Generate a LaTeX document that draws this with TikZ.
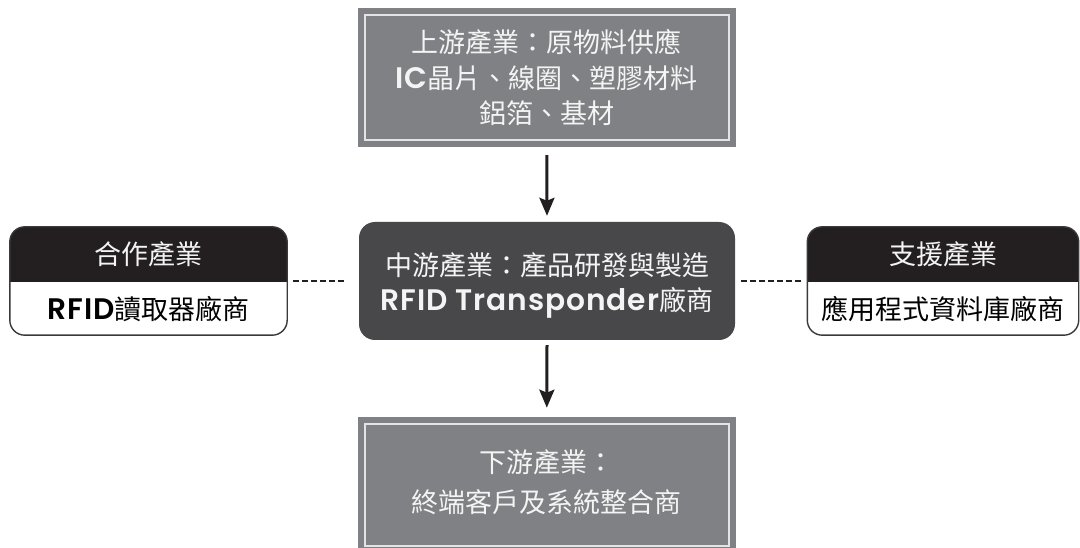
\documentclass[tikz,border=0pt]{standalone}
\usepackage{fontspec}
\setmainfont{Noto Sans CJK TC}
\newfontfamily\latfont{Poppins}[Scale=1.1, BoldFont=* SemiBold, LetterSpace=3]
\usetikzlibrary{arrows.meta,calc}
\definecolor{boxgray}{HTML}{808184}
\definecolor{middark}{HTML}{48484A}
\definecolor{hdrblack}{HTML}{231F20}
\definecolor{outline}{HTML}{3A3A3A}
\definecolor{inline}{HTML}{E4E4E4}
\definecolor{lighttext}{HTML}{F4F4F4}
\newcommand{\lb}[1]{{\latfont\bfseries #1}}
\tikzset{
  graybox/.style={fill=boxgray, draw=none, inner sep=0pt},
  midbox/.style={fill=middark, draw=none, rounded corners=16pt, inner sep=0pt},
  sidebox/.style={fill=white, draw=none, inner sep=0pt},
  txt/.style={font=\fontsize{27pt}{35.5pt}\selectfont, align=center, inner sep=0pt},
  lighttxt/.style={txt, text=lighttext},
  darktxt/.style={txt, text=black},
  frameline/.style={draw=inline, line width=2pt},
  sideline/.style={draw=outline, line width=1.4pt, rounded corners=15pt},
  arr/.style={draw=hdrblack, line width=3pt, -{Stealth[length=18pt,width=15pt,inset=3pt]}},
  dashline/.style={draw=hdrblack, line width=2pt, dash pattern=on 6pt off 3pt}
}
\begin{document}
\begin{tikzpicture}[x=1pt,y=-1pt]
\clip (0,0) rectangle (1080,548);
\fill[white] (0,0) rectangle (1080,548);
% top box
\node[graybox, minimum width=377.7pt, minimum height=138.5pt] (top) at (546.8,77.75) {};
\draw[frameline] ($(top.north west)+(7,7)$) rectangle ($(top.south east)+(-7,-7)$);
\node[lighttxt] (toptxt) at (546.8,77.5) {上游產業：原物料供應\\\lb{IC}晶片、線圈、塑膠材料\\鋁箔、基材};
% middle box
\node[midbox, minimum width=376pt, minimum height=118pt] (mid) at (547,281) {};
\node[lighttxt] (midtxt) at (547,285.5) {中游產業：產品研發與製造\\\lb{RFID Transponder}廠商};
% bottom box
\node[graybox, minimum width=377.7pt, minimum height=136.3pt, anchor=north] (bot) at (546.8,416.7) {};
\draw[frameline] ($(bot.north west)+(7,7)$) rectangle ($(bot.south east)+(-7,-7)$);
\node[darktxt, text=lighttext, font=\fontsize{27pt}{40pt}\selectfont] (bottxt) at (546.8,482) {下游產業：\\終端客戶及系統整合商};
% left side box
\node[sidebox, minimum width=277pt, minimum height=108pt] (left) at (148.5,281) {};
\begin{scope}
  \clip ($(left.north west)+(-2,-2)$) rectangle ([yshift=-1pt]left.east);
  \fill[hdrblack, rounded corners=15pt] (left.north west) rectangle (left.south east);
\end{scope}
\draw[sideline] (left.north west) rectangle (left.south east);
\node[lighttxt] (lefthdr) at (148.5,254.5) {合作產業};
\node[darktxt] (leftbody) at (148.5,309) {\lb{RFID}讀取器廠商};
% right side box
\node[sidebox, minimum width=271pt, minimum height=108pt] (right) at (943,281) {};
\begin{scope}
  \clip ($(right.north west)+(-2,-2)$) rectangle ([yshift=-1pt]right.east);
  \fill[hdrblack, rounded corners=15pt] (right.north west) rectangle (right.south east);
\end{scope}
\draw[sideline] (right.north west) rectangle (right.south east);
\node[lighttxt] (righthdr) at (943,254.5) {支援產業};
\node[darktxt] (rightbody) at (943,309) {應用程式資料庫廠商};
% arrows
\draw[arr] ([yshift=-8pt]top.south) -- ([yshift=6pt]mid.north);
\draw[arr] ([yshift=-5pt]mid.south) -- ([yshift=9pt]bot.north);
% dashed connectors
\draw[dashline] ([xshift=6pt]left.east) -- ([xshift=-14pt]mid.west);
\draw[dashline] ([xshift=6pt]mid.east) -- ([xshift=-5pt]right.west);
\end{tikzpicture}
\end{document}
